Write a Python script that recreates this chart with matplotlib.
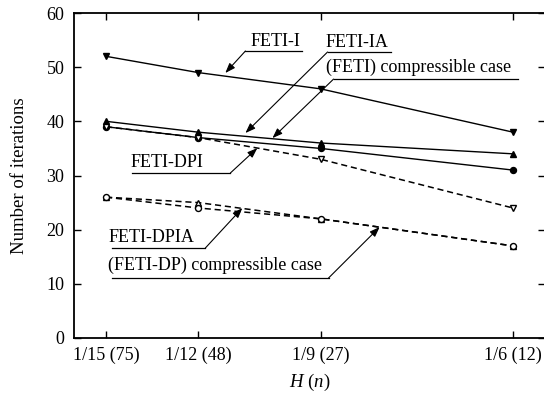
import matplotlib
matplotlib.use("Agg")
import matplotlib.pyplot as plt

plt.rcParams['font.family'] = ['Liberation Serif', 'DejaVu Serif']
plt.rcParams['mathtext.fontset'] = 'custom'
plt.rcParams['mathtext.it'] = 'Liberation Serif:italic'
plt.rcParams['mathtext.rm'] = 'Liberation Serif'

# categories (H (n)) and their positions on the axis
tick_labels = ["1/15 (75)", "1/12 (48)", "1/9 (27)", "1/6 (12)"]
xpos = [1.0, 2.0, 3.326, 5.413]

feti_i = [52, 49, 46, 38]
feti_ia = [40, 38, 36, 34]
feti_dpi = [39, 37, 35, 31]
feti_comp = [39, 37, 33, 24]
feti_dpia = [26, 25, 22, 17]
fetidp_comp = [26, 24, 22, 17]

fig = plt.figure(figsize=(5.44, 4.0), dpi=100)
ax = fig.add_axes([0.136, 0.155, 0.866, 0.8125])

ms = 4.3
lw = 1.0
dash = (0, (4, 2.5))
ax.plot(xpos, feti_i, color='black', lw=lw, marker='v', ms=ms, mfc='black')
ax.plot(xpos, feti_ia, color='black', lw=lw, marker='^', ms=ms, mfc='black')
ax.plot(xpos, feti_dpi, color='black', lw=lw, marker='o', ms=ms, mfc='black')
ax.plot(xpos, feti_comp, color='black', lw=1.1, ls=dash, marker='v', ms=ms, mfc='white')
ax.plot(xpos, feti_dpia, color='black', lw=1.1, ls=dash, marker='^', ms=ms, mfc='white')
ax.plot(xpos, fetidp_comp, color='black', lw=1.1, ls=dash, marker='o', ms=ms, mfc='white')

ax.set_xlim(0.652, 5.761)
ax.set_ylim(0, 60)
ax.set_xticks(xpos)
ax.set_xticklabels(tick_labels)
ax.set_yticks([0, 10, 20, 30, 40, 50, 60])
ax.tick_params(direction='in', top=True, right=True, length=5, width=1,
               labelsize=13)
ax.tick_params(axis='y', pad=7)
ax.tick_params(axis='x', pad=6)
for s in ax.spines.values():
    s.set_linewidth(1.3)

ax.set_ylabel("Number of iterations", fontsize=13.5, labelpad=13)
ax.set_xlabel("$H$ ($n$)", fontsize=13.5, labelpad=6)

fs = 13
arrow = dict(arrowstyle='-|>,head_length=0.6,head_width=0.22', color='black',
             lw=0.8, shrinkA=0, shrinkB=0)

# FETI-I
ax.text(2.565, 53.9, "FETI-I", fontsize=fs, va='baseline')
ax.plot([2.511, 3.13], [52.98, 52.98], color='black', lw=0.9)
ax.annotate("", xy=(2.293, 48.92), xytext=(2.511, 52.98), arrowprops=arrow)

# FETI-IA
ax.text(3.38, 53.7, "FETI-IA", fontsize=fs, va='baseline')
ax.plot([3.402, 4.087], [52.8, 52.8], color='black', lw=0.9)
ax.annotate("", xy=(2.511, 37.84), xytext=(3.402, 52.8), arrowprops=arrow)

# (FETI) compressible case
ax.text(3.38, 49.1, "(FETI) compressible case", fontsize=fs, va='baseline')
ax.plot([3.467, 5.467], [47.8, 47.8], color='black', lw=0.9)
ax.annotate("", xy=(2.804, 36.9), xytext=(3.467, 47.8), arrowprops=arrow)

# FETI-DPI
ax.text(1.261, 31.6, "FETI-DPI", fontsize=fs, va='baseline')
ax.plot([1.283, 2.348], [30.46, 30.46], color='black', lw=0.9)
ax.annotate("", xy=(2.641, 35.07), xytext=(2.348, 30.46), arrowprops=arrow)

# FETI-DPIA
ax.text(1.022, 17.7, "FETI-DPIA", fontsize=fs, va='baseline')
ax.plot([1.065, 2.076], [16.6, 16.6], color='black', lw=0.9)
ax.annotate("", xy=(2.478, 24.0), xytext=(2.076, 16.6), arrowprops=arrow)

# (FETI-DP) compressible case
ax.text(1.022, 12.6, "(FETI-DP) compressible case", fontsize=fs, va='baseline')
ax.plot([1.065, 3.413], [11.08, 11.08], color='black', lw=0.9)
ax.annotate("", xy=(3.967, 20.49), xytext=(3.413, 11.08), arrowprops=arrow)

fig.savefig("out.png", dpi=100)
